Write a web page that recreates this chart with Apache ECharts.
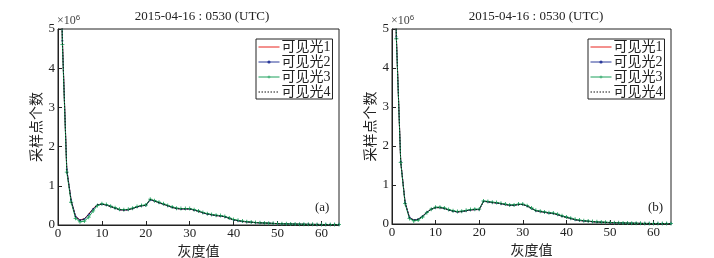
<!DOCTYPE html>
<html>
<head>
<meta charset="utf-8">
<script src="https://cdn.jsdelivr.net/npm/echarts@6/dist/echarts.min.js"></script>
<style>
  html, body { margin: 0; padding: 0; background: #fff; }
  #chart { width: 714px; height: 258px; }
</style>
</head>
<body>
<div id="chart"></div>
<script>
const FONT = "'Liberation Serif', 'Noto Sans CJK SC', serif";

// gray levels (x)
const grayLevels = [0, 1, 2, 3, 4, 5, 6, 7, 8, 9, 10, 11, 12, 13, 14, 15, 16, 17, 18, 19, 20,
  21, 22, 23, 24, 25, 26, 27, 28, 29, 30, 31, 32, 33, 34, 35, 36, 37, 38, 39, 40,
  41, 42, 43, 44, 45, 46, 47, 48, 49, 50, 51, 52, 53, 54, 55, 56, 57, 58, 59, 60,
  61, 62, 63, 64];

const seriesNames = ["可见光1", "可见光2", "可见光3", "可见光4"];
const xTicks = [0, 10, 20, 30, 40, 50, 60];

// panel (a), values in 10^6
const visA1 = [10, 4.7, 1.4, 0.62, 0.22, 0.13, 0.16, 0.28, 0.42, 0.52, 0.53, 0.51, 0.47, 0.43, 0.39, 0.38, 0.39, 0.42, 0.46, 0.49, 0.5,
  0.65, 0.61, 0.57, 0.53, 0.49, 0.45, 0.42, 0.41, 0.41, 0.41, 0.38, 0.35, 0.31, 0.28, 0.26, 0.24, 0.23, 0.21, 0.17, 0.13,
  0.11, 0.09, 0.08, 0.07, 0.06, 0.055, 0.05, 0.045, 0.04, 0.035, 0.03, 0.028, 0.025, 0.022, 0.02, 0.018, 0.016, 0.015, 0.014, 0.013,
  0.012, 0.011, 0.01, 0.01];
const visA2 = [10, 4.7, 1.42, 0.63, 0.22, 0.12, 0.15, 0.27, 0.41, 0.51, 0.53, 0.51, 0.47, 0.43, 0.39, 0.38, 0.39, 0.42, 0.46, 0.49, 0.5,
  0.64, 0.61, 0.57, 0.53, 0.49, 0.45, 0.42, 0.41, 0.41, 0.41, 0.38, 0.35, 0.31, 0.28, 0.26, 0.24, 0.23, 0.21, 0.17, 0.13,
  0.11, 0.09, 0.08, 0.07, 0.06, 0.055, 0.05, 0.045, 0.04, 0.035, 0.03, 0.028, 0.025, 0.022, 0.02, 0.018, 0.016, 0.015, 0.014, 0.013,
  0.012, 0.011, 0.01, 0.01];
const visA3 = [10, 4.6, 1.35, 0.58, 0.17, 0.08, 0.1, 0.2, 0.36, 0.5, 0.54, 0.52, 0.48, 0.44, 0.4, 0.39, 0.4, 0.43, 0.47, 0.5, 0.51,
  0.66, 0.62, 0.58, 0.54, 0.5, 0.46, 0.43, 0.42, 0.42, 0.42, 0.39, 0.36, 0.32, 0.29, 0.27, 0.25, 0.24, 0.22, 0.18, 0.14,
  0.12, 0.1, 0.085, 0.075, 0.065, 0.058, 0.052, 0.047, 0.042, 0.037, 0.032, 0.029, 0.026, 0.023, 0.021, 0.019, 0.017, 0.016, 0.015, 0.014,
  0.013, 0.012, 0.011, 0.011];
const visA4 = [10, 4.7, 1.4, 0.61, 0.21, 0.12, 0.15, 0.27, 0.41, 0.52, 0.53, 0.51, 0.47, 0.43, 0.39, 0.38, 0.39, 0.42, 0.46, 0.49, 0.5,
  0.65, 0.61, 0.57, 0.53, 0.49, 0.45, 0.42, 0.41, 0.41, 0.41, 0.38, 0.35, 0.31, 0.28, 0.26, 0.24, 0.23, 0.21, 0.17, 0.13,
  0.11, 0.09, 0.08, 0.07, 0.06, 0.055, 0.05, 0.045, 0.04, 0.035, 0.03, 0.028, 0.025, 0.022, 0.02, 0.018, 0.016, 0.015, 0.014, 0.013,
  0.012, 0.011, 0.01, 0.01];

// panel (b)
const visB1 = [10, 4.8, 1.6, 0.55, 0.17, 0.1, 0.12, 0.2, 0.3, 0.38, 0.42, 0.42, 0.4, 0.36, 0.33, 0.31, 0.32, 0.34, 0.36, 0.37, 0.37,
  0.58, 0.57, 0.55, 0.54, 0.52, 0.5, 0.48, 0.48, 0.5, 0.5, 0.46, 0.4, 0.34, 0.32, 0.3, 0.28, 0.27, 0.24, 0.2, 0.17,
  0.14, 0.11, 0.09, 0.08, 0.07, 0.06, 0.05, 0.045, 0.04, 0.035, 0.03, 0.027, 0.024, 0.021, 0.019, 0.017, 0.015, 0.014, 0.013, 0.012,
  0.011, 0.01, 0.01, 0.01];
const visB2 = [10, 4.8, 1.6, 0.56, 0.17, 0.1, 0.12, 0.2, 0.3, 0.38, 0.42, 0.42, 0.4, 0.36, 0.33, 0.31, 0.32, 0.34, 0.36, 0.37, 0.37,
  0.58, 0.57, 0.55, 0.54, 0.52, 0.5, 0.48, 0.48, 0.5, 0.5, 0.46, 0.4, 0.34, 0.32, 0.3, 0.28, 0.27, 0.24, 0.2, 0.17,
  0.14, 0.11, 0.09, 0.08, 0.07, 0.06, 0.05, 0.045, 0.04, 0.035, 0.03, 0.027, 0.024, 0.021, 0.019, 0.017, 0.015, 0.014, 0.013, 0.012,
  0.011, 0.01, 0.01, 0.01];
const visB3 = [10, 4.75, 1.58, 0.52, 0.14, 0.08, 0.1, 0.18, 0.29, 0.38, 0.43, 0.43, 0.41, 0.37, 0.34, 0.32, 0.33, 0.35, 0.37, 0.38, 0.38,
  0.59, 0.58, 0.56, 0.55, 0.53, 0.51, 0.49, 0.49, 0.51, 0.51, 0.47, 0.41, 0.35, 0.33, 0.31, 0.29, 0.28, 0.25, 0.21, 0.18,
  0.15, 0.12, 0.1, 0.085, 0.075, 0.065, 0.055, 0.05, 0.045, 0.04, 0.034, 0.03, 0.027, 0.024, 0.021, 0.019, 0.017, 0.016, 0.015, 0.014,
  0.013, 0.012, 0.011, 0.011];
const visB4 = [10, 4.8, 1.6, 0.55, 0.16, 0.1, 0.12, 0.2, 0.3, 0.38, 0.42, 0.42, 0.4, 0.36, 0.33, 0.31, 0.32, 0.34, 0.36, 0.37, 0.37,
  0.58, 0.57, 0.55, 0.54, 0.52, 0.5, 0.48, 0.48, 0.5, 0.5, 0.46, 0.4, 0.34, 0.32, 0.3, 0.28, 0.27, 0.24, 0.2, 0.17,
  0.14, 0.11, 0.09, 0.08, 0.07, 0.06, 0.05, 0.045, 0.04, 0.035, 0.03, 0.027, 0.024, 0.021, 0.019, 0.017, 0.015, 0.014, 0.013, 0.012,
  0.011, 0.01, 0.01, 0.01];

const panelA = [visA1, visA2, visA3, visA4];
const panelB = [visB1, visB2, visB3, visB4];

const PLUS = "path://M4,0H6V4H10V6H6V10H4V6H0V4H4Z";
const styles = [
  { color: "#e8231c", symbol: "none", size: 0, type: "solid" },
  { color: "#2b3a9a", symbol: "circle", size: 2, type: "solid" },
  { color: "#1aa05a", symbol: PLUS, size: 4, type: "solid" },
  { color: "#111111", symbol: "none", size: 0, type: [1.5, 1.5] },
];

const chart = echarts.init(document.getElementById("chart"), null, { renderer: "canvas" });

const grids = [
  { left: 58, top: 29, width: 281, height: 196 },
  { left: 392, top: 29, width: 279, height: 195 },
];

function xAxisFor(i) {
  return {
    gridIndex: i,
    type: "value",
    min: 0,
    max: 64,
    interval: 10,
    name: "灰度值",
    nameLocation: "middle",
    nameGap: 13,
    nameTextStyle: { fontFamily: FONT, fontSize: 14, color: "#222" },
    axisLine: { lineStyle: { color: "#222", width: 1 } },
    axisTick: { inside: true, length: 4, lineStyle: { color: "#222" }, customValues: xTicks },
    axisLabel: { fontFamily: FONT, fontSize: 13, color: "#222", margin: 2, customValues: xTicks },
    splitLine: { show: false },
  };
}

function yAxisFor(i) {
  return {
    gridIndex: i,
    type: "value",
    min: 0,
    max: 5,
    interval: 1,
    name: "采样点个数",
    nameLocation: "middle",
    nameGap: 14,
    nameTextStyle: { fontFamily: FONT, fontSize: 14, color: "#222" },
    axisLine: { lineStyle: { color: "#222", width: 1 } },
    axisTick: { inside: true, length: 4, lineStyle: { color: "#222" } },
    axisLabel: { fontFamily: FONT, fontSize: 13, color: "#222", margin: 3 },
    splitLine: { show: false },
  };
}

const series = [];
[panelA, panelB].forEach((panel, p) => {
  panel.forEach((vals, k) => {
    const st = styles[k];
    series.push({
      name: seriesNames[k],
      type: "line",
      xAxisIndex: p,
      yAxisIndex: p,
      data: grayLevels.map((g, idx) => [g, vals[idx]]),
      symbol: st.symbol,
      symbolSize: st.size,
      showSymbol: st.symbol !== "none",
      color: st.color,
      lineStyle: { color: st.color, width: 1, type: st.type },
      itemStyle: { color: st.color },
      clip: true,
      animation: false,
      z: 2 + k,
    });
  });
});

function legendFor(left) {
  return {
    left: left,
    top: 39,
    orient: "vertical",
    data: seriesNames.map((n, k) => ({
      name: n,
      itemStyle: { opacity: styles[k].symbol === "none" ? 0 : 1 },
    })),
    backgroundColor: "#fff",
    borderColor: "#222",
    borderWidth: 1,
    padding: [1, 2, 0, 2],
    itemGap: 1,
    itemWidth: 21,
    itemHeight: 4,
    lineStyle: { width: 1 },
    textStyle: { fontFamily: FONT, fontSize: 14, color: "#222", padding: [0, 0, 0, -3], lineHeight: 14 },
  };
}

const options = {
  backgroundColor: "#fff",
  animation: false,
  title: [
    { text: "2015-04-16 : 0530 (UTC)", left: 197, top: 5, textAlign: "center",
      textStyle: { fontFamily: FONT, fontSize: 13, fontWeight: "normal", color: "#222" } },
    { text: "2015-04-16 : 0530 (UTC)", left: 531, top: 5, textAlign: "center",
      textStyle: { fontFamily: FONT, fontSize: 13, fontWeight: "normal", color: "#222" } },
  ],
  grid: grids.map((g) => ({
    ...g, show: true, borderColor: "#222", borderWidth: 1, backgroundColor: "#fff",
    containLabel: false, outerBoundsMode: "none",
  })),
  xAxis: [xAxisFor(0), xAxisFor(1)],
  yAxis: [yAxisFor(0), yAxisFor(1)],
  legend: [legendFor(256), legendFor(588)],
  series: series,
  graphic: [
    { type: "text", left: 57, top: 14, style: { text: "×10{s|6}", fontFamily: FONT, fontSize: 12, fill: "#444",
      rich: { s: { fontSize: 8, verticalAlign: "top", padding: [0, 0, 6, 0], fill: "#444" } } } },
    { type: "text", left: 391, top: 14, style: { text: "×10{s|6}", fontFamily: FONT, fontSize: 12, fill: "#444",
      rich: { s: { fontSize: 8, verticalAlign: "top", padding: [0, 0, 6, 0], fill: "#444" } } } },
    { type: "text", left: 315, top: 201, style: { text: "(a)", fontFamily: FONT, fontSize: 13, fill: "#222" } },
    { type: "text", left: 648, top: 201, style: { text: "(b)", fontFamily: FONT, fontSize: 13, fill: "#222" } },
  ],
};

chart.setOption(options);
</script>
</body>
</html>
